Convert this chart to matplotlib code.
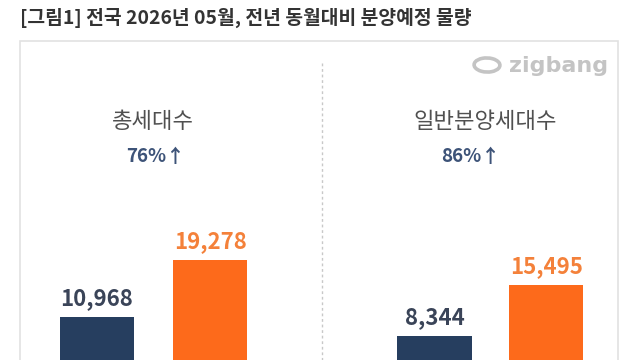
import matplotlib
matplotlib.use("Agg")
import matplotlib.pyplot as plt
from matplotlib.patches import Rectangle, Ellipse
from matplotlib.lines import Line2D

plt.rcParams['font.family'] = ['Noto Sans CJK KR', 'DejaVu Sans']

# data
categories = ['총세대수', '일반분양세대수']
prev_year = [10968, 8344]      # 2025년 05월
this_year = [19278, 15495]     # 2026년 05월
changes = ['76%', '86%']
title = '[그림1] 전국 2026년 05월, 전년 동월대비 분양예정 물량'

navy = '#263e5f'
orange = '#fd6a1b'
W, H = 640, 360


def fx(x):
    return x / W


def fy(y):
    return 1 - y / H


fig = plt.figure(figsize=(6.4, 3.6), dpi=100)
fig.patch.set_facecolor('white')

fig.text(fx(20), fy(18), title, fontsize=13.9, fontweight='bold',
         color='#333333', ha='left', va='center')

# panel frame
fig.add_artist(Rectangle((fx(20), fy(400)), fx(598), (400 - 41) / H,
                         transform=fig.transFigure, fill=False,
                         edgecolor='#e2e2e2', linewidth=1.2))
fig.add_artist(Line2D([fx(322), fx(322)], [fy(63), fy(360)],
                      transform=fig.transFigure, color='#c8c8c8',
                      linewidth=1, linestyle=(0, (2, 2))))

# zigbang logo
fig.add_artist(Ellipse((fx(487), fy(65)), 26 / W, 14 / H, angle=-25,
                       transform=fig.transFigure, fill=False,
                       edgecolor='#c4c4c4', linewidth=2.6))
fig.text(fx(509), fy(66), 'zigbang', fontsize=16, fontweight='bold',
         color='#c4c4c4', ha='left', va='center', family=['DejaVu Sans'])

# axes layout per panel: (left, right, baseline, top, xmin, xmax, ymax)
panels = [
    (20, 287, 392, 200, -0.68, 1.68, 27990),
    (323, 613, 395, 200, -1.0, 1.6, 27350),
]
title_x = [153, 485]
change_x = [156, 471]

for i, (l, r, base, top, x0, x1, ymax) in enumerate(panels):
    ax = fig.add_axes([fx(l), fy(base), (r - l) / W, (base - top) / H])
    ax.set_xlim(x0, x1)
    ax.set_ylim(0, ymax)
    ax.axis('off')
    vals = [prev_year[i], this_year[i]]
    cols = [navy, orange]
    lab_cols = ['#3a4458', '#f4813a']
    w = 0.655 if i == 0 else 0.67
    bars = ax.bar([0, 1], vals, width=w, color=cols, clip_on=False)
    for b, v, c in zip(bars, vals, lab_cols):
        ax.annotate(f'{v:,}', (b.get_x() + b.get_width() / 2, v),
                    xytext=(0, 5), textcoords='offset points',
                    ha='center', va='bottom', fontsize=16,
                    fontweight='bold', color=c, annotation_clip=False)
    fig.text(fx(title_x[i]), fy(122), categories[i], fontsize=16,
             fontweight='medium', color='#505050', ha='center', va='center')
    fig.text(fx(change_x[i]), fy(157), changes[i] + '↑', fontsize=13.5,
             fontweight='bold', color='#3d5378', ha='center', va='center')

fig.savefig('out.png', dpi=100, facecolor='white')
